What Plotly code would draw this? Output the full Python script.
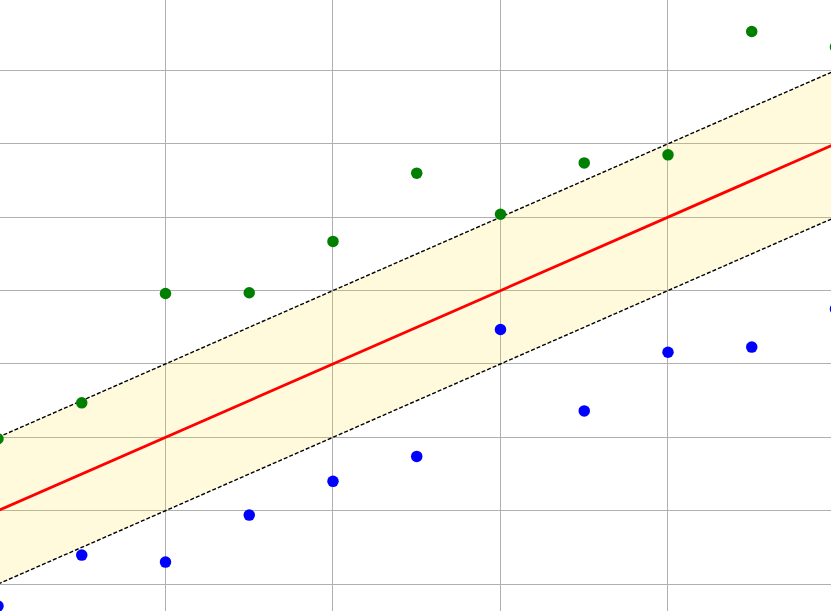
import plotly.graph_objects as go

# Data
x_vals = [0, 1, 2, 3, 4, 5, 6, 7, 8, 9, 10]
green_y = [0.98, 1.47, 2.96, 2.97, 3.67, 4.60, 4.04, 4.74, 4.85, 6.53, 6.32]
blue_y = [-1.30, -0.605, -0.70, -0.06, 0.40, 0.74, 2.47, 1.36, 2.16, 2.23, 2.75]
fit_x = [0, 10]
fit_y = [0.0, 5.0]
band = 1.0

upper = [v + band for v in fit_y]
lower = [v - band for v in fit_y]

fig = go.Figure()
# band fill
fig.add_trace(go.Scatter(x=fit_x, y=lower, mode="lines", line=dict(width=0),
                         showlegend=False, hoverinfo="skip"))
fig.add_trace(go.Scatter(x=fit_x, y=upper, mode="lines", line=dict(width=0),
                         fill="tonexty", fillcolor="rgba(255,222,22,0.15)",
                         showlegend=False, hoverinfo="skip"))
# dashed bounds
fig.add_trace(go.Scatter(x=fit_x, y=upper, mode="lines",
                         line=dict(color="black", width=1.4, dash="4px,2px"), showlegend=False))
fig.add_trace(go.Scatter(x=fit_x, y=lower, mode="lines",
                         line=dict(color="black", width=1.4, dash="4px,2px"), showlegend=False))
# fit line
fig.add_trace(go.Scatter(x=fit_x, y=fit_y, mode="lines",
                         line=dict(color="red", width=2.8), showlegend=False))
# points
fig.add_trace(go.Scatter(x=x_vals, y=green_y, mode="markers",
                         marker=dict(color="green", size=11.5), showlegend=False))
fig.add_trace(go.Scatter(x=x_vals, y=blue_y, mode="markers",
                         marker=dict(color="blue", size=11.5), showlegend=False))

# plot is a bit wider than the window so the x=10 points are cut at the edge
W = 846
px_per_unit = 83.75
x0 = 0.024
fig.update_layout(
    width=W, height=611,
    margin=dict(l=0, r=0, t=0, b=0),
    paper_bgcolor="white", plot_bgcolor="white",
    xaxis=dict(range=[x0, x0 + W / px_per_unit], tick0=0, dtick=2, showgrid=True,
               gridcolor="#b0b0b0", gridwidth=1, showticklabels=False,
               zeroline=False, showline=False, ticks=""),
    yaxis=dict(range=[-1.367, 6.96], tick0=0, dtick=1, showgrid=True,
               gridcolor="#b0b0b0", gridwidth=1, showticklabels=False,
               zeroline=False, showline=False, ticks=""),
)

fig.write_html("out.html", config={"displayModeBar": False},
               post_script="document.body.style.margin='0';document.body.style.overflow='hidden';")
